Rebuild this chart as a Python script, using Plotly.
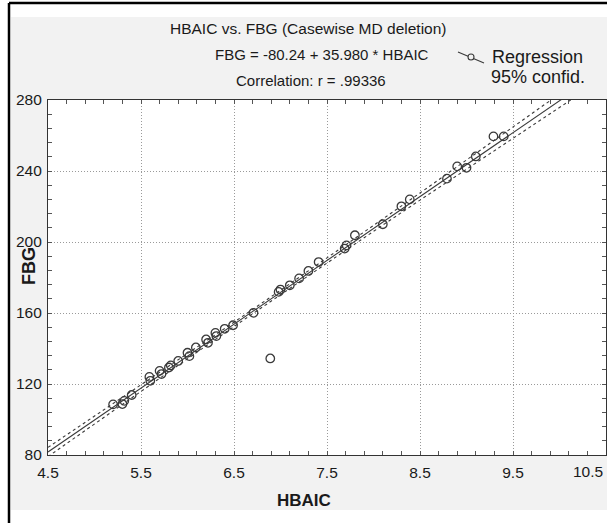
import plotly.graph_objects as go

# ---- data ----
hbaic = [5.20, 5.30, 5.32, 5.40, 5.59, 5.60, 5.70, 5.72, 5.80, 5.82, 5.90, 6.00, 6.02, 6.09,
         6.20, 6.22, 6.30, 6.31, 6.40, 6.49, 6.71, 6.89, 6.98, 7.00, 7.10, 7.20, 7.30, 7.41,
         7.69, 7.71, 7.80, 8.10, 8.30, 8.39, 8.79, 8.90, 9.00, 9.10, 9.29, 9.40]
fbg = [108.5, 108.7, 110.5, 113.8, 124.0, 121.8, 127.4, 125.6, 129.3, 130.5, 133.0, 137.6, 135.7, 140.6,
       145.1, 143.2, 148.8, 147.0, 151.1, 153.1, 160.1, 134.4, 171.9, 173.2, 175.6, 179.5, 183.7, 188.7,
       196.3, 198.1, 203.8, 210.0, 220.1, 224.0, 235.7, 242.6, 241.8, 248.2, 259.5, 259.5]

intercept = -80.24
slope = 35.980
fit_x = [4.5, 10.5]

band_x = [4.5, 5.0, 5.5, 6.0, 6.5, 7.0, 7.5, 8.0, 8.5, 9.0, 9.5, 10.0, 10.5]
band_upper = [84.3, 101.8, 119.4, 137.0, 154.8, 172.8, 190.9, 209.2, 227.6, 246.2, 264.8, 283.4, 302.0]
band_lower = [79.1, 97.6, 116.0, 134.2, 152.4, 170.4, 188.3, 206.0, 223.6, 241.0, 258.4, 275.8, 293.2]

x_ticks = [4.5, 5.5, 6.5, 7.5, 8.5, 9.5, 10.5]
y_ticks = [80, 120, 160, 200, 240, 280]

title_text = "HBAIC vs. FBG (Casewise MD deletion)"
eq_text = "FBG = -80.24 + 35.980 * HBAIC"
corr_text = "Correlation: r = .99336"

# ---- figure geometry (pixels) ----
W, H = 607, 523
L, R, T, B = 48, 1, 100, 68
PW, PH = W - L - R, H - T - B


def px(x):
    return (x - L) / PW


def py(y):
    return (H - B - y) / PH


FONT = "Liberation Sans, Arial, sans-serif"
INK = "#1a1a1a"
LINE = "#3a3a3a"

fig = go.Figure()

fig.add_trace(go.Scatter(x=band_x, y=band_upper, mode="lines",
                         line=dict(color=LINE, width=1.1, dash="3px,3px"), hoverinfo="skip"))
fig.add_trace(go.Scatter(x=band_x, y=band_lower, mode="lines",
                         line=dict(color=LINE, width=1.1, dash="3px,3px"), hoverinfo="skip"))
fig.add_trace(go.Scatter(x=fit_x, y=[intercept + slope * v for v in fit_x], mode="lines",
                         line=dict(color=LINE, width=1.1), hoverinfo="skip"))
fig.add_trace(go.Scatter(x=hbaic, y=fbg, mode="markers",
                         marker=dict(symbol="circle-open", size=8.5, color=LINE,
                                     line=dict(width=1.3, color=LINE))))

axis_common = dict(
    showline=True, linecolor="#333", linewidth=1.2, mirror="ticks",
    ticks="inside", ticklen=4, tickcolor="#555", tickwidth=1,
    showgrid=True, gridcolor="#9a9a9a", griddash="1px,2px", gridwidth=1,
    zeroline=False, tickfont=dict(family=FONT, size=15.5, color=INK),
)

fig.update_xaxes(range=[4.5, 10.5], tickvals=x_ticks,
                 ticktext=[str(v) for v in x_ticks[:-1]] + [""],
                 minor=dict(dtick=0.2, tick0=4.5, ticks="inside", ticklen=4,
                            tickcolor="#555", showgrid=False),
                 ticklabelstandoff=3, **axis_common)
fig.update_yaxes(range=[80, 280], tickvals=y_ticks, ticktext=[str(v) for v in y_ticks],
                 minor=dict(dtick=8, tick0=80, ticks="inside", ticklen=4,
                            tickcolor="#555", showgrid=False),
                 ticklabelstandoff=2, **axis_common)

shapes = [
    # white outer areas
    dict(type="rect", xref="paper", yref="paper", x0=px(0), x1=px(W), y0=py(0), y1=py(17),
         fillcolor="white", line_width=0, layer="below"),
    dict(type="rect", xref="paper", yref="paper", x0=px(0), x1=px(11), y0=py(0), y1=py(H),
         fillcolor="white", line_width=0, layer="below"),
    dict(type="rect", xref="paper", yref="paper", x0=px(0), x1=px(W), y0=py(510), y1=py(H),
         fillcolor="white", line_width=0, layer="below"),
    # black frame
    dict(type="line", xref="paper", yref="paper", x0=px(9), x1=px(9), y0=py(3), y1=py(H),
         line=dict(color="black", width=2.5)),
    dict(type="line", xref="paper", yref="paper", x0=px(9), x1=px(W), y0=py(3), y1=py(3),
         line=dict(color="black", width=2.5)),
    # legend glyph
    dict(type="line", xref="paper", yref="paper", x0=px(458), x1=px(484), y0=py(52), y1=py(63),
         line=dict(color=LINE, width=1.1)),
    dict(type="circle", xref="paper", yref="paper", x0=px(468), x1=px(474), y0=py(54), y1=py(60),
         line=dict(color=LINE, width=1.1), fillcolor="#f2f2f2"),
]

ann = [
    dict(text=title_text, x=px(308), y=py(28), font=dict(family=FONT, size=15.5, color=INK)),
    dict(text=eq_text, x=px(322), y=py(55), font=dict(family=FONT, size=15, color=INK)),
    dict(text=corr_text, x=px(311), y=py(80), font=dict(family=FONT, size=15, color=INK)),
    dict(text="Regression", x=px(490), y=py(57), xanchor="left", font=dict(family=FONT, size=18, color=INK)),
    dict(text="95% confid.", x=px(489), y=py(77), xanchor="left", font=dict(family=FONT, size=18, color=INK)),
    dict(text="10.5", x=px(605), y=py(471), xanchor="right", font=dict(family=FONT, size=15.5, color=INK)),
    dict(text="<b>HBAIC</b>", x=px(304), y=py(500), font=dict(family=FONT, size=17, color=INK)),
    dict(text="<b>FBG</b>", x=px(29), y=py(266), textangle=-90, font=dict(family=FONT, size=18, color=INK)),
]
annotations = []
for a in ann:
    base = dict(xref="paper", yref="paper", showarrow=False, xanchor="center", yanchor="middle",
                font=dict(family=FONT, size=14, color=INK))
    base.update(a)
    annotations.append(base)

fig.update_layout(
    width=W, height=H,
    margin=dict(l=L, r=R, t=T, b=B),
    paper_bgcolor="#f2f2f2", plot_bgcolor="white",
    showlegend=False, shapes=shapes, annotations=annotations,
)

fig.write_html("out.html", config={"displayModeBar": False},
               post_script="document.body.style.margin='0';document.body.style.overflow='hidden';")
